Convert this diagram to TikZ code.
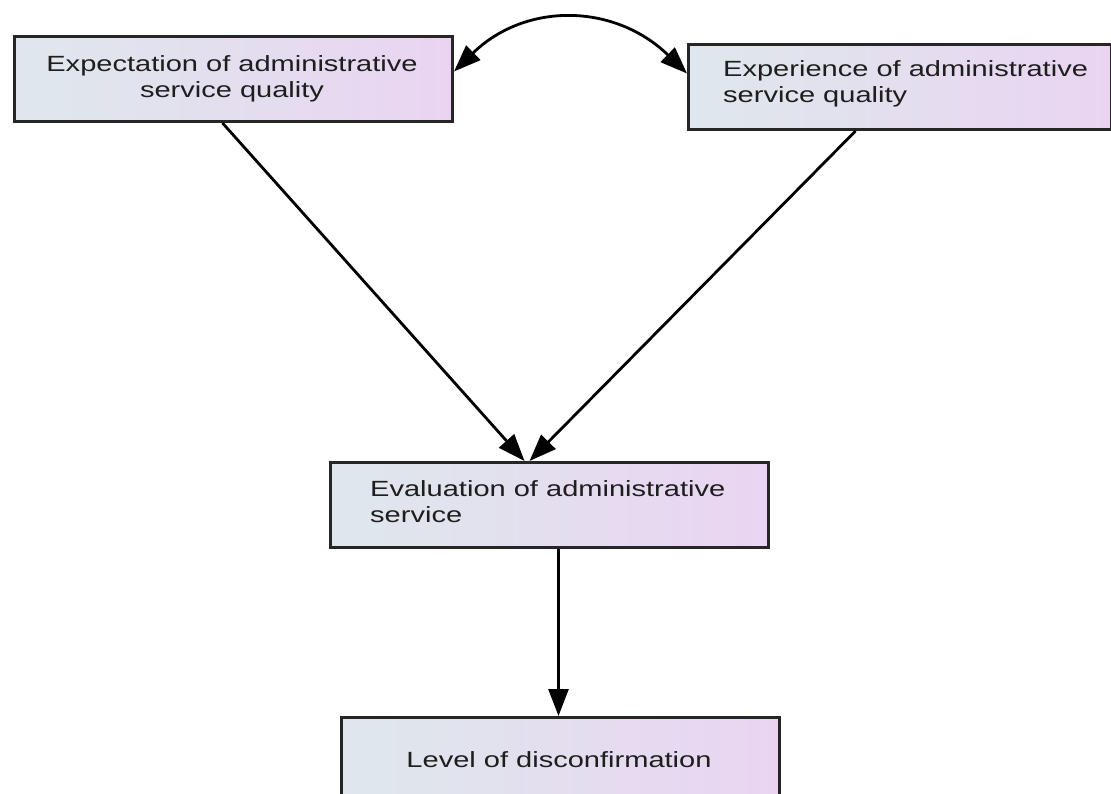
\documentclass[tikz,border=0pt]{standalone}
\usepackage{fontspec}
\setmainfont{Liberation Sans}[FakeStretch=1.32]
\usetikzlibrary{arrows.meta,calc}
\definecolor{boxleft}{RGB}{222,232,236}
\definecolor{boxright}{RGB}{234,212,242}
\definecolor{txt}{RGB}{30,30,30}
\begin{document}
\begin{tikzpicture}[x=1pt,y=-1pt,
  box/.style={rectangle, draw=black!85, line width=3pt, left color=boxleft, right color=boxright, inner sep=0pt, anchor=north west},
  lbl/.style={font=\fontsize{22}{26}\selectfont, text=txt, inner sep=0pt},
  conn/.style={line width=2.8pt, -{Triangle[length=27pt,width=20pt]}},
  twoway/.style={line width=2.8pt, {Triangle[length=27pt,width=20pt]}-{Triangle[length=27pt,width=20pt]}}
]
\useasboundingbox[fill=white] (0,0) rectangle (1111,794);
% boxes
\node[box, minimum width=438pt, minimum height=85pt] (b1) at (13,35) {};
\node[box, minimum width=423pt, minimum height=85pt] (b2) at (687,43) {};
\node[box, minimum width=438pt, minimum height=85pt] (b3) at (329,461) {};
\node[box, minimum width=438pt, minimum height=85pt] (b4) at (340,716) {};
% labels
\node[lbl, align=center, anchor=base] (t1) at (232,98) {Expectation of administrative\\service quality};
\node[lbl, align=left, anchor=base west] (t2) at (723,103) {Experience of administrative\\service quality};
\node[lbl, align=left, anchor=base west] (t3) at (370,522) {Evaluation of administrative\\service};
\node[lbl, align=center, anchor=base] (t4) at (559,767) {Level of disconfirmation};
% connectors
\draw[twoway] ([yshift=7.5pt]b1.east) .. controls +(72,-70) and +(-72,-70) .. ([yshift=13.5pt]b2.west);
\draw[conn] ([xshift=-11pt]b1.south) -- ([xshift=-25pt]b3.north);
\draw[conn] ([xshift=-44.5pt]b2.south) -- ([xshift=-20pt]b3.north);
\draw[conn] ([xshift=9pt]b3.south) -- ([xshift=-2pt]b4.north);
\end{tikzpicture}
\end{document}
